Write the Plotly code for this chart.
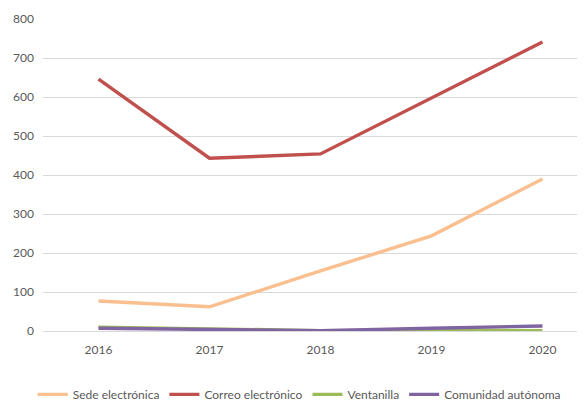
import plotly.graph_objects as go

years = ["2016", "2017", "2018", "2019", "2020"]
sede = [77, 62, 154, 244, 390]
correo = [646, 443, 454, 597, 741]
ventanilla = [10, 5, 1, 2, 1]
comunidad = [7, 5, 1, 7, 13]

series = [
    ("Sede electrónica", sede, "#F9BF8F"),
    ("Correo electrónico", correo, "#C0504D"),
    ("Ventanilla", ventanilla, "#9BBB59"),
    ("Comunidad autónoma", comunidad, "#8064A2"),
]

FONT = "Liberation Sans Narrow, Lato, sans-serif"

fig = go.Figure()
for name, vals, color in series:
    fig.add_trace(go.Scatter(
        x=list(range(len(years))), y=vals, name=name, mode="lines",
        line=dict(color=color, width=3.4),
    ))

fig.update_layout(
    width=585, height=403,
    margin=dict(l=35, r=8, t=11, b=80, autoexpand=False),
    paper_bgcolor="white", plot_bgcolor="white",
    font=dict(family=FONT, size=12, color="#595959"),
    showlegend=True,
    legend=dict(orientation="h", x=-0.019, xanchor="left", y=-0.203, yanchor="middle",
                font=dict(family=FONT, size=12, color="#595959"),
                itemwidth=30, tracegroupgap=0, traceorder="normal"),
    xaxis=dict(
        range=[-0.5, 4.383], tickmode="array", automargin=False,
        tickvals=list(range(len(years))), ticktext=years,
        showgrid=False, zeroline=False, showline=False,
        ticks="", ticklabelstandoff=10,
        tickfont=dict(family=FONT, size=12, color="#595959"),
    ),
    yaxis=dict(
        range=[0, 800], dtick=100, showgrid=True, gridcolor="#D9D9D9", gridwidth=1,
        zeroline=True, zerolinecolor="#D9D9D9", zerolinewidth=1, automargin=False,
        showline=False, ticks="", ticklabelstandoff=8,
        tickfont=dict(family=FONT, size=12, color="#595959"),
    ),
)

fig.write_html("out.html")
